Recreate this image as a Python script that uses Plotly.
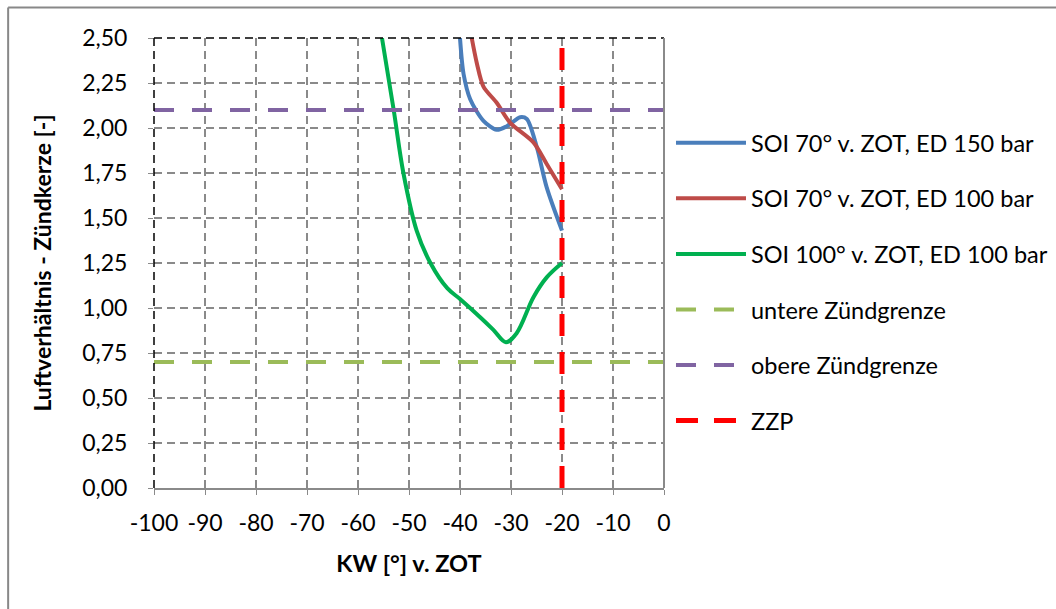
import plotly.graph_objects as go

# Crank angle (deg before TDC) and air ratio at the spark plug
blue_x = [-40.0, -39.3, -38.0, -35.4, -32.8, -30.8, -28.2, -26.9, -25.0, -23.0, -20.0]
blue_y = [2.50, 2.30, 2.16, 2.04, 1.99, 2.01, 2.06, 2.05, 1.90, 1.67, 1.43]

red_x = [-37.7, -36.7, -35.4, -32.8, -30.2, -25.6, -23.0, -20.0]
red_y = [2.50, 2.36, 2.23, 2.14, 2.03, 1.92, 1.80, 1.66]

green_x = [-55.3, -53.0, -51.1, -48.5, -45.8, -42.5, -40.0, -36.1, -33.5, -31.0, -28.9, -25.6, -23.0, -20.0]
green_y = [2.50, 2.10, 1.75, 1.43, 1.25, 1.11, 1.05, 0.95, 0.88, 0.81, 0.86, 1.06, 1.17, 1.25]

x_range = [-100, 0]
lower_limit = 0.7
upper_limit = 2.1
ignition_angle = -20
y_range = [0, 2.5]

x_tickvals = [-100, -90, -80, -70, -60, -50, -40, -30, -20, -10, 0]
x_ticktext = ["-100", "-90", "-80", "-70", "-60", "-50", "-40", "-30", "-20", "-10", "0"]

series_names = [
    "SOI 70° v. ZOT, ED 150 bar",
    "SOI 70° v. ZOT, ED 100 bar",
    "SOI 100° v. ZOT, ED 100 bar",
    "untere Zündgrenze",
    "obere Zündgrenze",
    "ZZP",
]

FONT = "Lato"
FS = 23
fig = go.Figure()

curve_style = dict(mode="lines", line_shape="spline")
fig.add_trace(go.Scatter(x=blue_x, y=blue_y, name=series_names[0], legendgroup="a",
                         line=dict(color="#4A7EBB", width=4, smoothing=0.8), **curve_style))
fig.add_trace(go.Scatter(x=red_x, y=red_y, name=series_names[1], legendgroup="b",
                         line=dict(color="#BE4B48", width=4, smoothing=0.8), **curve_style))
fig.add_trace(go.Scatter(x=green_x, y=green_y, name=series_names[2], legendgroup="c",
                         line=dict(color="#00B050", width=4, smoothing=1.0), **curve_style))
fig.add_trace(go.Scatter(x=x_range, y=[lower_limit, lower_limit], name=series_names[3], legendgroup="d",
                         mode="lines", line=dict(color="#9BBB59", width=4, dash="20px,18px")))
fig.add_trace(go.Scatter(x=x_range, y=[upper_limit, upper_limit], name=series_names[4], legendgroup="e",
                         mode="lines", line=dict(color="#8064A2", width=4, dash="20px,18px")))
fig.add_trace(go.Scatter(x=[ignition_angle, ignition_angle], y=y_range, name=series_names[5], legendgroup="f",
                         mode="lines", line=dict(color="#FF0000", width=5, dash="22px,16px")))

grid = "#8a8a8a"
fig.update_xaxes(range=x_range, tickvals=x_tickvals, ticktext=x_ticktext,
                 showgrid=True, gridcolor=grid, gridwidth=1.5,
                 griddash="8px,5px", showline=True, linecolor=grid, linewidth=1.5,
                 ticks="outside", ticklen=5, tickcolor=grid, zeroline=False,
                 ticklabelstandoff=9,
                 tickfont=dict(family=FONT, size=FS, color="black"),
                 title=dict(text="<b>KW [°] v. ZOT</b>", font=dict(family=FONT, size=23.5, color="black"),
                            standoff=20))
fig.update_yaxes(range=y_range, dtick=0.25, tick0=0, tickformat=".2f", showgrid=True, gridcolor=grid,
                 gridwidth=1.5, griddash="8px,5px", showline=False, ticks="outside", ticklen=5,
                 tickcolor=grid, zeroline=False, ticklabelstandoff=16,
                 tickfont=dict(family=FONT, size=FS, color="black"),
                 title=dict(text="<b>Luftverhältnis - Zündkerze [-]</b>",
                            font=dict(family=FONT, size=23, color="black"), standoff=24))

L, R, T, B = 153.5, 664, 38, 488
W, H = 1056, 609
pw, ph = R - L, B - T


def px(xp):
    return (xp - L) / pw


def py(yp):
    return (B - yp) / ph


shapes = [
    # plot frame: dashed top and left, solid right
    dict(type="line", xref="paper", yref="paper", x0=0, x1=1, y0=1, y1=1,
         line=dict(color="black", width=1.5, dash="8px,5px")),
    dict(type="line", xref="paper", yref="paper", x0=0, x1=0, y0=0, y1=1,
         line=dict(color="black", width=1.5, dash="8px,5px")),
    dict(type="line", xref="paper", yref="paper", x0=1, x1=1, y0=0, y1=1,
         line=dict(color=grid, width=2)),
    # outer chart border
    dict(type="line", xref="paper", yref="paper", x0=px(7.5), x1=px(W + 5), y0=py(7.5), y1=py(7.5),
         line=dict(color="#888888", width=2)),
    dict(type="line", xref="paper", yref="paper", x0=px(7.5), x1=px(7.5), y0=py(7.5), y1=py(H + 5),
         line=dict(color="#888888", width=2)),
]

fig.update_layout(
    width=W, height=H,
    margin=dict(l=L, r=W - R, t=T, b=H - B, pad=0, autoexpand=False),
    paper_bgcolor="white", plot_bgcolor="white",
    separators=",.",
    font=dict(family=FONT, size=FS, color="black"),
    shapes=shapes,
    showlegend=True,
    legend=dict(x=px(671), y=py(121), xanchor="left", yanchor="top",
                traceorder="grouped", tracegroupgap=22, itemwidth=70,
                font=dict(family=FONT, size=23.5, color="black"),
                bgcolor="rgba(0,0,0,0)"),
)

fig.write_html("out.html")
